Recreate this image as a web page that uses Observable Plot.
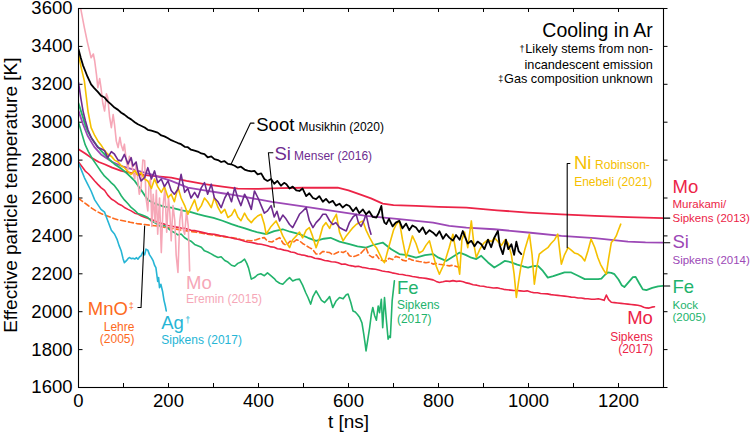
<!DOCTYPE html>
<html><head><meta charset="utf-8">
<script src="https://cdn.jsdelivr.net/npm/d3@7"></script>
<script src="https://cdn.jsdelivr.net/npm/@observablehq/plot@0.6"></script>
<style>body{margin:0;background:#fff;} #chart svg{display:block}</style>
</head><body><div id="chart"></div>
<script>
// ---- tick values ----
const xTicks = [0, 200, 400, 600, 800, 1000, 1200];
const xMinorTicks = [0, 100, 200, 300, 400, 500, 600, 700, 800, 900, 1000, 1100, 1200, 1300];
const yTicks = [1600, 1800, 2000, 2200, 2400, 2600, 2800, 3000, 3200, 3400, 3600];

// ---- series: [t (ns), T (K)] ----
const sootMusikhin = [[0,3385],[5,3340],[10,3300],[15,3270],[20,3240],[28,3200],[35,3180],[43,3160],[50,3140],[58,3130],[65,3110],[72,3095],[80,3077],[88,3065],[95,3050],[102,3040],[110,3025],[117,3015],[125,3000],[132,2989],[140,2980],[147,2972],[154,2960],[162,2955],[169,2950],[176,2945],[184,2930],[191,2925],[199,2915],[206,2905],[213,2898],[221,2890],[228,2884],[236,2870],[243,2868],[250,2855],[258,2850],[265,2845],[273,2835],[280,2831],[287,2815],[295,2820],[302,2805],[310,2800],[317,2790],[324,2795],[332,2780],[339,2778],[347,2770],[354,2760],[361,2765],[369,2750],[376,2745],[384,2740],[391,2743],[398,2725],[406,2730],[413,2700],[420,2690],[428,2700],[435,2675],[442,2690],[450,2665],[457,2680],[462,2673],[469,2650],[476,2660],[484,2640],[491,2637],[498,2650],[506,2610],[513,2625],[521,2600],[528,2594],[535,2610],[543,2580],[550,2595],[557,2575],[565,2585],[572,2560],[580,2570],[587,2550],[595,2565],[602,2558],[610,2530],[617,2550],[624,2520],[632,2540],[639,2514],[646,2530],[654,2500],[662,2497],[667,2520],[673,2558],[676,2500],[680,2470],[684,2462],[690,2490],[698,2450],[705,2470],[713,2479],[720,2440],[728,2465],[735,2430],[742,2455],[750,2444],[757,2420],[765,2445],[772,2410],[780,2430],[788,2417],[795,2400],[802,2425],[810,2385],[817,2410],[824,2391],[832,2375],[839,2405],[847,2380],[854,2426],[858,2400],[865,2360],[873,2374],[880,2345],[887,2370],[895,2356],[902,2330],[910,2380],[917,2340],[924,2390],[932,2426],[936,2350],[943,2304],[950,2380],[955,2330],[962,2356],[968,2300],[973,2370],[978,2320],[984,2304]];

const siMenser = [[0,3210],[5,3130],[10,3060],[15,3010],[21,2960],[28,2920],[36,2890],[43,2866],[50,2860],[58,2850],[65,2813],[73,2845],[80,2831],[88,2800],[95,2796],[102,2830],[110,2780],[117,2813],[121,2769],[128,2790],[132,2740],[139,2690],[147,2708],[154,2760],[162,2700],[169,2743],[176,2681],[184,2700],[191,2660],[199,2690],[206,2640],[213,2620],[221,2646],[228,2725],[236,2630],[243,2650],[250,2600],[258,2630],[265,2602],[273,2655],[280,2681],[287,2620],[295,2673],[302,2600],[310,2580],[317,2549],[325,2600],[332,2630],[340,2580],[347,2655],[354,2600],[361,2560],[369,2620],[376,2590],[384,2540],[391,2637],[399,2600],[406,2560],[413,2520],[420,2532],[428,2560],[435,2500],[441,2530],[447,2479],[454,2510],[461,2490],[469,2460],[476,2444],[484,2480],[491,2514],[498,2530],[506,2549],[513,2480],[521,2444],[528,2470],[536,2490],[543,2514],[550,2514],[558,2480],[565,2460],[572,2470],[580,2444],[587,2435],[595,2426],[602,2470],[610,2500],[617,2514],[622,2470],[628,2450],[634,2480],[639,2514],[645,2450],[650,2409]];

const siSipkens = [[0,3060],[10,2990],[20,2930],[35,2870],[50,2830],[75,2790],[100,2765],[132,2743],[161,2725],[206,2690],[243,2655],[280,2640],[320,2625],[354,2612],[406,2590],[430,2580],[491,2558],[565,2532],[639,2506],[713,2488],[788,2470],[824,2453],[862,2444],[924,2435],[999,2418],[1073,2400],[1147,2388],[1221,2370],[1260,2366],[1300,2364]];

const moMurakami = [[0,2857],[15,2835],[28,2813],[45,2790],[58,2778],[75,2760],[95,2743],[132,2725],[170,2715],[206,2708],[240,2690],[280,2673],[320,2660],[354,2650],[400,2648],[450,2652],[500,2654],[576,2655],[600,2640],[630,2615],[650,2598],[676,2570],[700,2562],[750,2558],[800,2553],[862,2549],[930,2535],[999,2523],[1073,2514],[1147,2506],[1221,2499],[1300,2494]];

const moSipkens = [[0,2790],[8,2765],[15,2742],[22,2728],[28,2712],[36,2690],[43,2672],[50,2655],[58,2640],[65,2615],[73,2595],[80,2585],[88,2570],[95,2562],[102,2550],[110,2540],[117,2532],[125,2520],[132,2515],[140,2505],[147,2498],[155,2492],[162,2486],[169,2480],[176,2472],[184,2466],[191,2462],[199,2455],[206,2452],[213,2448],[221,2445],[228,2442],[236,2440],[243,2435],[250,2430],[258,2428],[265,2425],[273,2420],[280,2416],[287,2412],[295,2410],[302,2408],[310,2405],[317,2400],[325,2398],[332,2393],[340,2390],[347,2385],[354,2382],[361,2378],[369,2372],[376,2368],[384,2365],[391,2362],[398,2358],[406,2356],[413,2352],[420,2348],[428,2342],[435,2340],[442,2332],[450,2330],[457,2325],[465,2322],[472,2315],[480,2312],[487,2305],[495,2300],[502,2298],[510,2292],[517,2290],[525,2282],[532,2280],[540,2276],[547,2270],[555,2268],[562,2264],[570,2262],[577,2258],[585,2250],[592,2252],[600,2245],[607,2242],[615,2238],[622,2240],[630,2234],[637,2232],[645,2228],[652,2226],[660,2224],[667,2220],[675,2215],[682,2212],[690,2210],[697,2205],[705,2202],[712,2198],[720,2196],[727,2192],[735,2190],[742,2186],[750,2183],[757,2180],[765,2178],[772,2176],[780,2172],[788,2168],[795,2160],[802,2154],[810,2158],[817,2162],[825,2160],[832,2164],[840,2160],[847,2162],[855,2158],[862,2152],[870,2148],[877,2142],[885,2140],[892,2136],[900,2134],[907,2130],[915,2128],[922,2125],[930,2126],[937,2122],[945,2118],[952,2116],[960,2114],[967,2112],[975,2112],[982,2110],[990,2108],[997,2110],[1005,2104],[1012,2100],[1020,2100],[1027,2096],[1035,2095],[1042,2094],[1050,2090],[1057,2088],[1065,2086],[1072,2084],[1080,2082],[1087,2080],[1095,2077],[1102,2076],[1110,2072],[1117,2072],[1125,2069],[1132,2068],[1140,2066],[1147,2066],[1155,2068],[1162,2064],[1168,2060],[1173,2088],[1178,2064],[1184,2050],[1191,2048],[1198,2046],[1206,2044],[1213,2042],[1221,2040],[1228,2038],[1236,2036],[1243,2034],[1250,2030],[1256,2024],[1262,2020],[1268,2019],[1274,2024],[1280,2026]];

const feKock = [[0,3100],[8,3040],[15,2985],[22,2945],[30,2912],[40,2880],[50,2850],[58,2830],[70,2800],[82,2775],[95,2755],[110,2725],[125,2690],[140,2640],[154,2590],[170,2570],[190,2555],[206,2549],[230,2535],[250,2525],[265,2515],[280,2506],[300,2495],[320,2480],[340,2462],[355,2450],[370,2440],[385,2428],[399,2418],[417,2409],[435,2425],[454,2435],[470,2422],[491,2409],[510,2390],[528,2374],[545,2385],[560,2390],[580,2370],[602,2356],[620,2345],[639,2338],[655,2352],[676,2365],[695,2330],[713,2304],[730,2298],[750,2286],[770,2298],[788,2304],[800,2285],[817,2268],[832,2290],[847,2312],[860,2300],[873,2285],[884,2278],[895,2295],[910,2260],[924,2233],[936,2250],[947,2268],[960,2262],[975,2248],[990,2238],[999,2233],[1010,2240],[1021,2242],[1032,2215],[1043,2180],[1055,2188],[1070,2200],[1080,2208],[1095,2207],[1110,2190],[1125,2172],[1140,2172],[1155,2172],[1162,2174],[1170,2195],[1176,2207],[1184,2205],[1191,2198],[1200,2170],[1207,2140],[1213,2130],[1224,2160],[1232,2182],[1238,2184],[1246,2150],[1254,2118],[1262,2114],[1275,2126],[1288,2134],[1300,2136]];

const feSipkens = [[0,3000],[8,2935],[15,2880],[22,2845],[30,2810],[40,2775],[50,2740],[58,2715],[65,2700],[73,2680],[80,2665],[88,2640],[95,2612],[102,2590],[110,2570],[117,2550],[125,2535],[132,2518],[140,2512],[147,2505],[154,2497],[162,2478],[169,2470],[176,2460],[184,2450],[191,2455],[199,2440],[206,2426],[213,2418],[221,2405],[228,2410],[236,2390],[243,2380],[250,2372],[258,2355],[265,2348],[273,2340],[280,2321],[287,2315],[295,2305],[302,2295],[310,2286],[317,2290],[325,2270],[332,2262],[340,2245],[347,2240],[354,2255],[361,2262],[369,2277],[374,2255],[378,2230],[384,2172],[391,2180],[398,2195],[405,2200],[413,2190],[420,2205],[428,2189],[435,2175],[439,2163],[447,2150],[454,2145],[462,2165],[469,2180],[476,2162],[484,2170],[491,2172],[498,2140],[505,2100],[510,2075],[516,2040],[521,2080],[528,2110],[534,2085],[540,2060],[547,2048],[553,2065],[558,2080],[565,2022],[572,2055],[580,2075],[588,2068],[595,2090],[599,2093],[605,2050],[610,2004],[615,1998],[620,1985],[625,1969],[630,1940],[634,1880],[637,1830],[639,1793],[642,1840],[647,1916],[651,1990],[654,2022],[658,1980],[662,1955],[666,2030],[669,1995],[673,2066],[676,1916],[680,2075],[684,1960],[688,1855],[691,1872],[693,1864],[697,2057],[700,2120],[702,2163]];

const niRobinson = [[0,3358],[6,3288],[13,3218],[18,3120],[21,3059],[28,2971],[36,2930],[43,2901],[50,2880],[58,2850],[65,2831],[73,2820],[80,2800],[88,2790],[95,2770],[102,2760],[110,2740],[117,2725],[125,2745],[132,2720],[139,2734],[147,2700],[154,2690],[162,2650],[169,2700],[176,2660],[184,2630],[191,2660],[199,2602],[206,2620],[213,2580],[221,2655],[228,2600],[236,2560],[243,2514],[250,2550],[258,2590],[265,2532],[273,2560],[280,2600],[287,2580],[295,2549],[302,2602],[310,2550],[317,2520],[325,2540],[332,2497],[340,2510],[347,2540],[354,2500],[361,2480],[369,2520],[376,2490],[384,2470],[391,2490],[398,2505],[406,2514],[413,2460],[417,2409],[428,2450],[439,2479],[447,2440],[454,2400],[461,2370],[469,2338],[476,2380],[484,2400],[491,2420],[498,2390],[506,2430],[513,2444],[520,2400],[528,2338],[536,2390],[543,2450],[550,2470],[558,2440],[565,2480],[573,2514],[580,2420],[588,2374],[595,2400],[602,2420],[610,2444],[617,2460],[624,2470],[632,2479],[639,2430],[647,2391],[654,2360],[662,2338],[670,2300],[676,2270],[680,2259],[687,2320],[694,2380],[700,2430],[706,2460],[713,2479],[720,2380],[728,2286],[735,2340],[742,2400],[750,2360],[757,2310],[765,2321],[772,2350],[780,2374],[788,2300],[795,2240],[802,2198],[810,2240],[817,2286],[824,2340],[832,2409],[840,2300],[847,2198],[852,2380],[858,2420],[865,2338],[873,2479],[879,2350],[884,2286],[892,2330],[900,2360],[910,2380],[918,2370],[924,2391],[932,2370],[940,2350],[948,2380],[955,2360],[962,2300],[968,2200],[973,2075],[978,2160],[984,2251],[992,2330],[1002,2409],[1008,2300],[1013,2145],[1018,2230],[1024,2304],[1032,2320],[1043,2338],[1050,2360],[1058,2380],[1065,2409],[1069,2330],[1073,2251],[1080,2300],[1088,2338],[1095,2325],[1102,2310],[1110,2304],[1118,2290],[1125,2268],[1132,2320],[1139,2383],[1147,2340],[1154,2286],[1160,2250],[1167,2220],[1173,2198],[1178,2280],[1184,2365],[1190,2380],[1195,2400],[1199,2426],[1205,2462]];

const moEremin = [[0,3660],[6,3586],[13,3499],[20,3420],[28,3340],[33,3360],[36,3323],[40,3250],[43,3182],[47,3230],[50,3182],[54,3100],[58,3059],[62,3150],[65,3130],[69,3030],[73,2971],[77,3040],[80,2989],[84,2900],[88,2866],[92,2920],[95,2880],[99,2850],[102,2884],[106,2800],[110,2750],[113,2820],[117,2796],[121,2740],[125,2700],[128,2780],[132,2690],[135,2620],[139,2655],[143,2800],[147,2796],[150,2600],[154,2532],[157,2680],[160,2700],[163,2450],[166,2620],[170,2470],[173,2640],[176,2409],[180,2600],[184,2312],[188,2560],[192,2650],[196,2420],[200,2600],[203,2520],[206,2374],[210,2560],[214,2480],[217,2300],[221,2207],[225,2480],[229,2550],[232,2440],[236,2409],[240,2530],[244,2450],[247,2215]];

const agSipkens = [[0,2785],[6,2750],[13,2708],[20,2675],[28,2637],[36,2590],[43,2565],[50,2540],[58,2525],[65,2480],[73,2430],[80,2410],[86,2380],[90,2350],[95,2320],[99,2280],[102,2259],[106,2268],[110,2280],[113,2286],[117,2280],[121,2282],[125,2278],[129,2285],[132,2277],[136,2290],[139,2295],[143,2315],[147,2300],[150,2330],[154,2325],[158,2300],[162,2285],[166,2268],[169,2245],[172,2233],[176,2160],[178,2180],[180,2127],[183,2145],[187,2105],[190,2060],[193,2030],[195,2004]];

const mnoLehre = [[0,2598],[10,2580],[20,2563],[30,2545],[40,2530],[50,2518],[58,2510],[70,2500],[80,2490],[90,2484],[102,2479],[115,2472],[130,2465],[147,2460],[160,2456],[175,2452],[190,2446],[206,2440],[225,2432],[245,2425],[265,2418],[285,2410],[305,2402],[325,2395],[339,2391],[350,2388],[362,2380],[374,2376],[384,2374],[395,2380],[405,2388],[413,2391],[420,2372],[430,2368],[440,2382],[447,2391],[455,2360],[462,2350],[470,2372],[478,2368],[485,2380],[491,2374],[498,2360],[505,2350],[513,2338],[520,2330],[528,2305],[536,2304],[543,2318],[550,2315],[558,2312],[565,2300],[573,2310],[580,2318],[588,2312],[595,2321],[602,2295],[610,2290],[617,2295],[625,2302],[632,2320],[639,2338],[645,2300],[650,2292],[654,2286],[662,2300],[669,2275],[676,2270],[684,2268],[690,2282],[698,2275],[705,2292],[713,2286],[720,2272],[728,2268],[735,2280],[742,2272],[750,2268],[757,2265],[765,2262],[772,2258],[780,2262],[788,2251],[795,2255],[802,2250],[810,2248],[817,2245],[824,2242],[832,2245],[840,2238],[847,2233],[852,2238]];

// ---- styling ----
const FONT = "'Liberation Sans', Arial, sans-serif";
const C = {
  black: "#000000", siDark: "#6e2b8f", siLight: "#9c48b6", red: "#ec2447",
  green: "#22b36c", yellow: "#f5c000", orange: "#fd6a1d", pink: "#f6a7b7", cyan: "#26b5d5"
};
const rows = pairs => pairs.map(([t, T]) => ({t, T}));
const measureCtx = document.createElement("canvas").getContext("2d");
const textWidth = (s, size) => { measureCtx.font = `${size}px "Liberation Sans"`; return measureCtx.measureText(s).width; };

const seriesDefs = [
  {data: moMurakami, stroke: C.red, w: 1.8},
  {data: siSipkens, stroke: C.siLight, w: 1.8},
  {data: feKock, stroke: C.green, w: 1.8},
  {data: mnoLehre, stroke: C.orange, w: 1.6, dash: "5,3"},
  {data: moSipkens, stroke: C.red, w: 1.6},
  {data: feSipkens, stroke: C.green, w: 1.6},
  {data: moEremin, stroke: C.pink, w: 1.6},
  {data: agSipkens, stroke: C.cyan, w: 1.6},
  {data: niRobinson, stroke: C.yellow, w: 1.6},
  {data: siMenser, stroke: C.siDark, w: 1.6},
  {data: sootMusikhin, stroke: C.black, w: 1.8}
];

// annotation leader lines (data coords)
const leaders = [
  {id: "soot", pts: [[339,2778],[382,2995],[390,2995]]},
  {id: "si", pts: [[435,2552],[422,2839],[432,2839]]},
  {id: "ni", pts: [[1086,2338],[1086,2782],[1092,2782]]},
  {id: "mno", pts: [[132,2022],[139,2022],[147,2452]]},
  {id: "r1", pts: [[1300,2494],[1314,2494]]},
  {id: "r2", pts: [[1300,2364],[1314,2364]]},
  {id: "r3", pts: [[1300,2136],[1314,2136]]}
];
const leaderRows = leaders.flatMap(l => l.pts.map(([t, T]) => ({id: l.id, t, T})));

const BIG = 18.5, SMALL = 12, RSMALL = 11.5, NOTE = 12.7, SUP = 9;
const labels = [
  // [text, t, T, fill, size, anchor, dx]
  ["Soot", 395, 2954, C.black, BIG, "start"],
  ["Musikhin (2020)", 489, 2954, C.black, SMALL, "start"],
  ["Si", 435.6, 2798, C.siDark, BIG, "start"],
  ["Menser (2016)", 479, 2798, C.siDark, SMALL, "start"],
  ["Ni", 1101, 2753, C.yellow, BIG, "start"],
  ["Robinson-", 1148, 2753, C.yellow, SMALL, "start"],
  ["Enebeli (2021)", 1101.5, 2662, C.yellow, SMALL, "start"],
  ["Mo", 239, 2119, C.pink, BIG, "start"],
  ["Eremin (2015)", 239, 2047, C.pink, SMALL, "start"],
  ["MnO", 109.8, 1981, C.orange, BIG, "end"],
  ["\u2021", 109.8, 2015, C.orange, SUP, "start", 0.8],
  ["Lehre", 124.4, 1897, C.orange, SMALL, "end"],
  ["(2005)", 124.4, 1833, C.orange, SMALL, "end"],
  ["Ag", 183.8, 1908, C.cyan, BIG, "start"],
  ["\u2020", 183.8, 1943, C.cyan, SUP, "start", textWidth("Ag", BIG) + 1.5],
  ["Sipkens (2017)", 183.8, 1832, C.cyan, SMALL, "start"],
  ["Fe", 707.6, 2093, C.green, BIG, "start"],
  ["Sipkens", 707.6, 2012, C.green, SMALL, "start"],
  ["(2017)", 707.6, 1938, C.green, SMALL, "start"],
  ["Mo", 1276.4, 1935, C.red, BIG, "end"],
  ["Sipkens", 1276.4, 1845, C.red, SMALL, "end"],
  ["(2017)", 1276.4, 1780, C.red, SMALL, "end"],
  ["Mo", 1320, 2629, C.red, BIG, "start"],
  ["Murakami/", 1320, 2548, C.red, RSMALL, "start"],
  ["Sipkens (2013)", 1320, 2475, C.red, RSMALL, "start"],
  ["Si", 1320, 2334, C.siLight, BIG, "start"],
  ["Sipkens (2014)", 1320, 2252, C.siLight, RSMALL, "start"],
  ["Fe", 1320, 2100, C.green, BIG, "start"],
  ["Kock", 1320, 2015, C.green, RSMALL, "start"],
  ["(2005)", 1320, 1949, C.green, RSMALL, "start"],
  ["Cooling in Ar", 1276.4, 3451, C.black, 19.5, "end"],
  ["Likely stems from non-", 1276.4, 3363, C.black, NOTE, "end"],
  ["incandescent emission", 1276.4, 3283, C.black, NOTE, "end"],
  ["Gas composition unknown", 1276.4, 3205, C.black, NOTE, "end"],
  ["\u2020", 1276.4, 3372, C.black, SUP, "end", -(textWidth("Likely stems from non-", NOTE) + 0.8)],
  ["\u2021", 1276.4, 3214, C.black, SUP, "end", -(textWidth("Gas composition unknown", NOTE) + 0.8)]
];

const marks = [];
// tick marks
marks.push(Plot.ruleX(xMinorTicks, {x: d => d, y1: 1600, y2: 1621, stroke: "#000", strokeWidth: 1}));
marks.push(Plot.ruleX(xMinorTicks, {x: d => d, y1: 3600, y2: 3579, stroke: "#000", strokeWidth: 1}));
marks.push(Plot.ruleY(yTicks, {y: d => d, x1: 0, x2: 10, stroke: "#000", strokeWidth: 1}));
marks.push(Plot.ruleY(yTicks, {y: d => d, x1: 1300, x2: 1310, stroke: "#000", strokeWidth: 1}));

for (const s of seriesDefs) {
  marks.push(Plot.line(rows(s.data), {
    x: "t", y: "T", stroke: s.stroke, strokeWidth: s.w,
    strokeDasharray: s.dash, clip: true, strokeLinejoin: "round"
  }));
}
marks.push(Plot.line(leaderRows, {x: "t", y: "T", z: "id", stroke: "#000", strokeWidth: 1.1}));
marks.push(Plot.frame({stroke: "#000", strokeWidth: 1.1}));

for (const [text, t, T, fill, size, anchor, dx = 0] of labels) {
  marks.push(Plot.text([{text, t, T}], {
    x: "t", y: "T", text: "text", fill, fontSize: size, fontFamily: FONT,
    textAnchor: anchor, lineAnchor: "bottom", dx
  }));
}
// axis titles
marks.push(Plot.text([{s: "t [ns]", t: 600}], {x: "t", text: "s", frameAnchor: "bottom", dy: 40, lineAnchor: "bottom", fontSize: 19, fontFamily: FONT, fill: "#000"}));
marks.push(Plot.text([{s: "Effective particle temperature [K]", t: 0, T: 2615}], {x: "t", y: "T", text: "s", dx: -62, rotate: -90, textAnchor: "middle", lineAnchor: "bottom", fontSize: 19, fontFamily: FONT, fill: "#000"}));

const chart = Plot.plot({
  width: 751, height: 439,
  marginLeft: 78, marginRight: 88, marginTop: 8, marginBottom: 52,
  x: {domain: [0, 1300], ticks: xTicks, tickSize: 0, tickPadding: 6, tickFormat: d => String(d), label: null},
  y: {domain: [1600, 3600], ticks: yTicks, tickSize: 0, tickPadding: 6, tickFormat: d => String(d), label: null},
  style: {fontFamily: FONT, fontSize: "18.5px", background: "#fff", color: "#000", overflow: "visible"},
  marks
});
document.getElementById("chart").appendChild(chart);
</script></body></html>
